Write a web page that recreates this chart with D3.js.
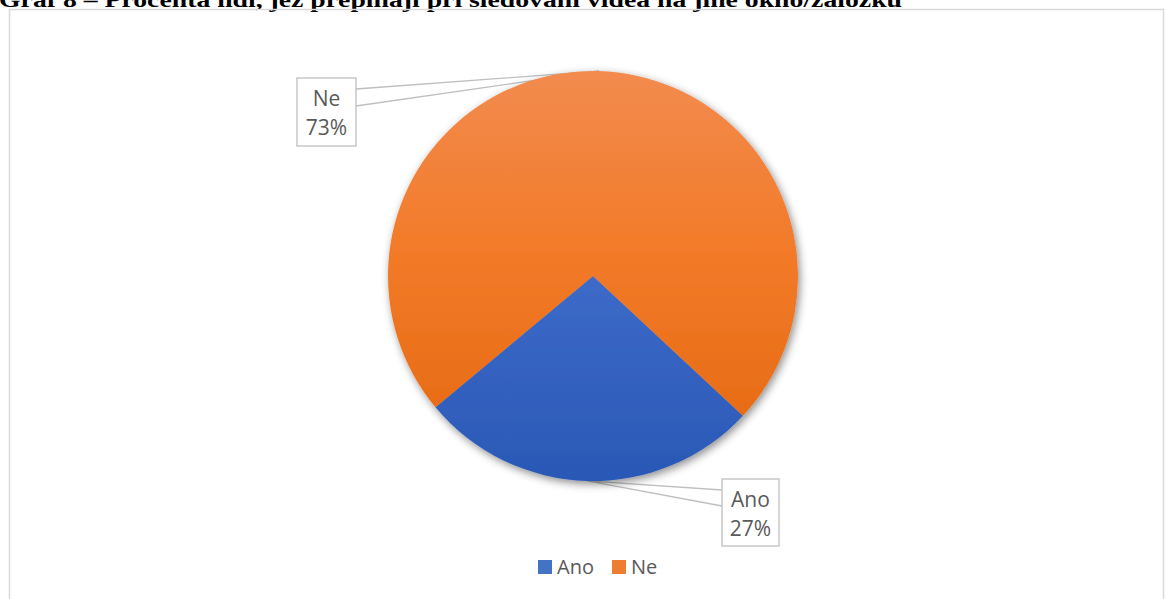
<!DOCTYPE html>
<html>
<head>
<meta charset="utf-8">
<script src="https://cdn.jsdelivr.net/npm/d3@7"></script>
<style>
  body { margin: 0; background: #fff; }
  svg { display: block; }
</style>
</head>
<body>
<svg id="chart"></svg>
<script>
// data
const categories = ["Ano", "Ne"];
const values = [27, 73];
const titleText = "Graf 8 – Procenta lidí, jež přepínají při sledování videa na jiné okno/záložku";

const width = 1165, height = 599;
const cx = 593, cy = 276, radius = 205;

const svg = d3.select("#chart")
    .attr("width", width)
    .attr("height", height);

const defs = svg.append("defs");

// vertical gradients like the office style (coords are local to the pie group)
const gradStops = {
    "Ano": ["#6788d2", "#3f6cca", "#2a58b6"],
    "Ne": ["#f28b4e", "#f27a28", "#e3660f"]
};
categories.forEach((c, i) => {
    const g = defs.append("linearGradient")
        .attr("id", "grad" + i)
        .attr("gradientUnits", "userSpaceOnUse")
        .attr("x1", 0).attr("x2", 0)
        .attr("y1", -radius).attr("y2", radius);
    g.append("stop").attr("offset", "0%").attr("stop-color", gradStops[c][0]);
    g.append("stop").attr("offset", "45%").attr("stop-color", gradStops[c][1]);
    g.append("stop").attr("offset", "100%").attr("stop-color", gradStops[c][2]);
});

const shadow = defs.append("filter")
    .attr("id", "shadow")
    .attr("x", "-20%").attr("y", "-20%")
    .attr("width", "140%").attr("height", "140%");
shadow.append("feDropShadow")
    .attr("dx", 2).attr("dy", 3)
    .attr("stdDeviation", 4)
    .attr("flood-color", "#000")
    .attr("flood-opacity", 0.45);

const color = d3.scaleOrdinal()
    .domain(categories)
    .range(categories.map((c, i) => "url(#grad" + i + ")"));
const legendColor = d3.scaleOrdinal()
    .domain(categories)
    .range(["#4472c4", "#ed7d31"]);

// title, cut off at the top like in the source
svg.append("text")
    .attr("x", -1)
    .attr("y", 7)
    .attr("font-family", "'Liberation Serif', 'Times New Roman', serif")
    .attr("font-weight", "bold")
    .attr("font-size", 21)
    .attr("textLength", 903)
    .attr("lengthAdjust", "spacingAndGlyphs")
    .attr("fill", "#000")
    .text(titleText);

// chart area frame
svg.append("rect")
    .attr("x", 9.5).attr("y", 9.5)
    .attr("width", 1154).attr("height", 600)
    .attr("fill", "none")
    .attr("stroke", "#d9d9d9")
    .attr("stroke-width", 1.5);

const total = d3.sum(values);
const data = categories.map((c, i) => ({ key: c, value: values[i] }));

const startAngle = 133 * Math.PI / 180;
const pie = d3.pie()
    .value(d => d.value)
    .sort(null)
    .startAngle(startAngle)
    .endAngle(startAngle + 2 * Math.PI);
const arc = d3.arc().innerRadius(0).outerRadius(radius);
const pieData = pie(data);

const g = svg.append("g").attr("transform", `translate(${cx},${cy})`);

// callout boxes (drawn first so the pie covers the leader wedges)
const callouts = {
    "Ne": { x: -296, y: -198, w: 59, h: 68, side: "right", y1: 11, y2: 28 },
    "Ano": { x: 129, y: 203, w: 57, h: 67, side: "left", y1: 11, y2: 27 }
};

const labels = g.append("g");
pieData.forEach(d => {
    const a = (d.startAngle + d.endAngle) / 2;
    const px = Math.sin(a) * radius;
    const py = -Math.cos(a) * radius;
    const c = callouts[d.data.key];
    const ex = c.side === "right" ? c.x + c.w : c.x;
    labels.append("path")
        .attr("d", `M${ex},${c.y + c.y1}L${px},${py}L${ex},${c.y + c.y2}`)
        .attr("fill", "#fff")
        .attr("stroke", "#bfbfbf")
        .attr("stroke-width", 1.3);
    labels.append("rect")
        .attr("x", c.x).attr("y", c.y)
        .attr("width", c.w).attr("height", c.h)
        .attr("fill", "#fff")
        .attr("stroke", "#bfbfbf")
        .attr("stroke-width", 1.3);
    const t = labels.append("text")
        .attr("text-anchor", "middle")
        .attr("font-family", "'Open Sans', Lato, sans-serif")
        .attr("font-size", 21)
        .attr("fill", "#595959");
    t.append("tspan")
        .attr("x", c.x + c.w / 2)
        .attr("y", c.y + 28)
        .text(d.data.key);
    t.append("tspan")
        .attr("x", c.x + c.w / 2)
        .attr("y", c.y + 57)
        .text(Math.round(d.data.value / total * 100) + "%");
});

g.append("g")
    .attr("filter", "url(#shadow)")
    .selectAll("path")
    .data(pieData)
    .enter()
    .append("path")
    .attr("d", arc)
    .attr("fill", d => color(d.data.key));

// legend
const legend = svg.append("g").attr("transform", "translate(538,560)");
const legendX = [0, 74];
categories.forEach((c, i) => {
    const item = legend.append("g").attr("transform", `translate(${legendX[i]},0)`);
    item.append("rect")
        .attr("width", 14).attr("height", 14)
        .attr("fill", legendColor(c));
    item.append("text")
        .attr("x", 19).attr("y", 14)
        .attr("font-family", "'Open Sans', Lato, sans-serif")
        .attr("font-size", 20)
        .attr("fill", "#595959")
        .text(c);
});
</script>
</body>
</html>
